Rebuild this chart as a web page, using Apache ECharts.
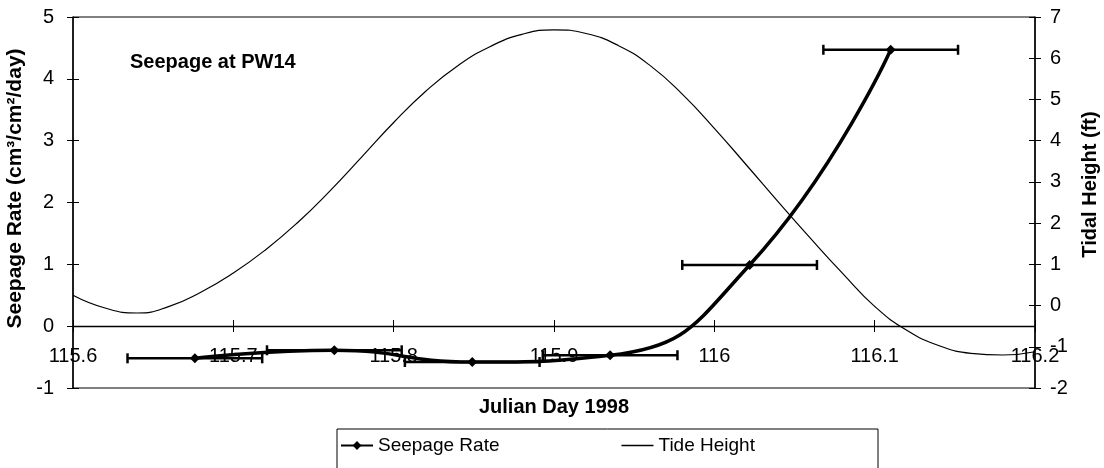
<!DOCTYPE html>
<html>
<head>
<meta charset="utf-8">
<title>Seepage at PW14</title>
<script src="https://cdn.jsdelivr.net/npm/echarts@6/dist/echarts.min.js"></script>
<style>
  html, body { margin: 0; padding: 0; background: #fff; }
  #chart { width: 1104px; height: 468px; }
</style>
</head>
<body>
<div id="chart"></div>
<script>
// seepage measurements (julian day, rate, +/- day error)
const seepDays = [115.676, 115.763, 115.849, 115.935, 116.022, 116.110]
const seepRates = [-0.52, -0.39, -0.58, -0.47, 0.99, 4.47]
const seepErr = [0.042, 0.042, 0.042, 0.042, 0.042, 0.042]

// tide gauge readings
const tideDays = [115.60, 115.62, 115.64, 115.66, 115.68, 115.70, 115.72, 115.74, 115.76, 115.78,
  115.80, 115.82, 115.84, 115.86, 115.88, 115.90, 115.92, 115.94, 115.96, 115.98,
  116.00, 116.02, 116.04, 116.06, 116.08, 116.10, 116.12, 116.14, 116.16, 116.18, 116.20]
const tideHeights = [0.25, -0.06, -0.18, -0.02, 0.33, 0.79, 1.35, 2.01, 2.77, 3.60,
  4.44, 5.20, 5.82, 6.28, 6.58, 6.69, 6.60, 6.31, 5.82, 5.13,
  4.30, 3.41, 2.51, 1.63, 0.78, -0.02, -0.60, -0.97, -1.16, -1.20, -1.12]

const FONT = "'Liberation Sans', Arial, sans-serif"

const chart = echarts.init(document.getElementById('chart'))

const seepData = seepDays.map((d, i) => [d, seepRates[i]])
const errData = seepDays.map((d, i) => [d, seepRates[i], seepErr[i]])
const tideData = tideDays.map((d, i) => [d, tideHeights[i]])

// horizontal error bars with end caps
const renderErr = (params, api) => {
  const x = api.value(0)
  const y = api.value(1)
  const e = api.value(2)
  const p1 = api.coord([x - e, y])
  const p2 = api.coord([x + e, y])
  const st = { stroke: '#000', lineWidth: 2.5 }
  return {
    type: 'group',
    children: [
      { type: 'line', shape: { x1: p1[0], y1: p1[1], x2: p2[0], y2: p2[1] }, style: st },
      { type: 'line', shape: { x1: p1[0], y1: p1[1] - 5, x2: p1[0], y2: p1[1] + 5 }, style: st },
      { type: 'line', shape: { x1: p2[0], y1: p2[1] - 5, x2: p2[0], y2: p2[1] + 5 }, style: st }
    ]
  }
}

const labelStyle = { color: '#000', fontSize: 20, fontFamily: FONT }
const nameStyle = { color: '#000', fontSize: 20, fontWeight: 'bold', fontFamily: FONT }
// x axis sits on the zero of the seepage axis: 62px above the plot bottom
const ZERO_OFFSET = -62

const options = {
  animation: false,
  textStyle: { fontFamily: FONT },
  title: {
    text: 'Seepage at PW14',
    left: 130,
    top: 52,
    padding: 0,
    textStyle: { color: '#000', fontSize: 20, fontWeight: 'bold', fontFamily: FONT }
  },
  grid: {
    left: 73,
    right: 69,
    top: 17,
    bottom: 80,
    outerBoundsMode: 'none',
    containLabel: false,
    show: true,
    borderColor: '#000',
    borderWidth: 1
  },
  legend: {
    left: 340,
    top: 436,
    padding: 0,
    itemGap: 122,
    itemWidth: 32,
    itemHeight: 11,
    data: [
      { name: 'Seepage Rate' },
      { name: 'Tide Height', icon: 'path://M0,0h100v5h-100z' }
    ],
    textStyle: { color: '#000', fontSize: 19, fontFamily: FONT }
  },
  graphic: [
    {
      type: 'rect',
      shape: { x: 337, y: 429, width: 541, height: 45 },
      style: { fill: 'none', stroke: '#000', lineWidth: 1 }
    }
  ],
  xAxis: [
    {
      type: 'value',
      position: 'bottom',
      min: 115.6,
      max: 116.2,
      interval: 0.1,
      offset: ZERO_OFFSET,
      name: 'Julian Day 1998',
      nameLocation: 'middle',
      nameGap: 71,
      nameTextStyle: nameStyle,
      axisLine: { onZero: false, lineStyle: { color: '#000', width: 1.3 } },
      axisTick: { show: true, length: 6, lineStyle: { color: '#000' } },
      axisLabel: { ...labelStyle, margin: 20, formatter: v => String(+v.toFixed(1)) },
      splitLine: { show: false }
    },
    {
      type: 'value',
      position: 'bottom',
      min: 115.6,
      max: 116.2,
      interval: 0.1,
      offset: ZERO_OFFSET,
      axisLine: { show: false, onZero: false },
      axisTick: { show: true, inside: true, length: 6, lineStyle: { color: '#000' } },
      axisLabel: { show: false },
      splitLine: { show: false }
    }
  ],
  yAxis: [
    {
      type: 'value',
      position: 'left',
      min: -1,
      max: 5,
      interval: 1,
      name: 'Seepage Rate (cm³/cm²/day)',
      nameLocation: 'middle',
      nameGap: 41,
      nameTextStyle: { ...nameStyle, fontSize: 21, padding: [0, 0, 0, 28] },
      axisLine: { show: true, onZero: false, lineStyle: { color: '#000', width: 1.5 } },
      axisTick: { show: true, length: 6, lineStyle: { color: '#000' } },
      axisLabel: { ...labelStyle, margin: 19 },
      splitLine: { show: false }
    },
    {
      type: 'value',
      position: 'right',
      min: -2,
      max: 7,
      interval: 1,
      name: 'Tidal Height (ft)',
      nameLocation: 'middle',
      nameGap: 45,
      nameTextStyle: { ...nameStyle, padding: [0, 0, 0, 36] },
      axisLine: { show: true, onZero: false, lineStyle: { color: '#000', width: 1.5 } },
      axisTick: { show: true, length: 6, lineStyle: { color: '#000' } },
      axisLabel: { ...labelStyle, margin: 15 },
      splitLine: { show: false }
    },
    {
      type: 'value',
      position: 'left',
      min: -1,
      max: 5,
      interval: 1,
      axisLine: { show: false, onZero: false },
      axisTick: { show: true, inside: true, length: 6, lineStyle: { color: '#000' } },
      axisLabel: { show: false },
      splitLine: { show: false }
    },
    {
      type: 'value',
      position: 'right',
      min: -2,
      max: 7,
      interval: 1,
      axisLine: { show: false, onZero: false },
      axisTick: { show: true, inside: true, length: 6, lineStyle: { color: '#000' } },
      axisLabel: { show: false },
      splitLine: { show: false }
    }
  ],
  series: [
    {
      name: 'Tide Height',
      type: 'line',
      yAxisIndex: 1,
      data: tideData,
      smooth: true,
      showSymbol: false,
      symbol: 'none',
      lineStyle: { color: '#000', width: 1.2 },
      itemStyle: { color: '#000' },
      z: 2
    },
    {
      name: 'Seepage Rate',
      type: 'line',
      yAxisIndex: 0,
      data: seepData,
      smooth: true,
      symbol: 'diamond',
      symbolSize: 10,
      lineStyle: { color: '#000', width: 3.5 },
      itemStyle: { color: '#000' },
      z: 4
    },
    {
      name: 'err',
      type: 'custom',
      yAxisIndex: 0,
      data: errData,
      encode: { x: 0, y: 1 },
      renderItem: renderErr,
      z: 3
    }
  ]
}

chart.setOption(options)
</script>
</body>
</html>
